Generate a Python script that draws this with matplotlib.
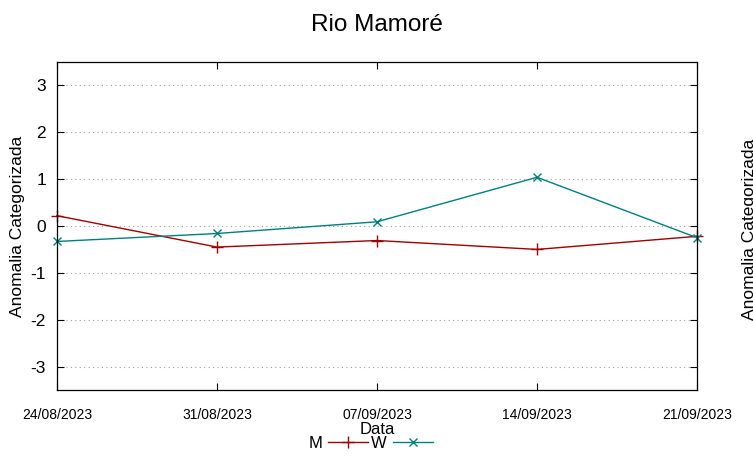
import matplotlib
matplotlib.use("Agg")
import matplotlib.pyplot as plt
import matplotlib.dates as mdates
import pandas as pd

# Chart data
datas = ["2023-08-24", "2023-08-31", "2023-09-07", "2023-09-14", "2023-09-21"]
m_valores = [0.22, -0.45, -0.31, -0.50, -0.22]
w_valores = [-0.33, -0.16, 0.09, 1.04, -0.25]
y_ticks = [-3, -2, -1, 0, 1, 2, 3]

x = pd.to_datetime(datas)

plt.rcParams['font.family'] = ['Liberation Sans', 'DejaVu Sans']
plt.rcParams['axes.unicode_minus'] = False

fig = plt.figure(figsize=(7.53, 4.59), dpi=100)
ax = fig.add_axes([57 / 753, 69 / 459, 640 / 753, 328 / 459])

ax.plot(x, m_valores, color='#a00000', lw=1, marker='+', ms=8, mew=1, label='M', clip_on=False)
ax.plot(x, w_valores, color='#008080', lw=1, marker='x', ms=6, mew=1, label='W', clip_on=False)

ax.set_xlim(x[0], x[-1])
ax.set_ylim(-3.5, 3.5)
ax.set_yticks(y_ticks)
ax.set_xticks(x)
ax.xaxis.set_major_formatter(mdates.DateFormatter('%d/%m/%Y'))
ax.yaxis.grid(True, linestyle=(0, (1, 3)), color='#a0a0a0', lw=0.8)

ax.tick_params(direction='in', top=True, right=True, length=5, width=0.8)
ax.tick_params(axis='y', labelsize=12.5, pad=8)
ax.tick_params(axis='x', labelsize=10, pad=13)
for s in ax.spines.values():
    s.set_linewidth(0.9)

ax.set_ylabel('Anomalia Categorizada', fontsize=12.5, labelpad=4)
ax.set_xlabel('Data', fontsize=12, labelpad=0)
ax.set_title('Rio Mamoré', fontsize=17.5, pad=22)

ax.legend(loc='center', bbox_to_anchor=(0.49, -(443 - 390) / 328),
          ncol=2, frameon=False, markerfirst=False, handlelength=2.4,
          columnspacing=0.2, handletextpad=0.35, borderaxespad=0,
          borderpad=0, fontsize=12)

# cut-off label of the neighbouring panel
fig.text(742 / 753, 0.5, 'Anomalia Categorizada', rotation=90, fontsize=12.5,
         va='center', ha='left')

fig.savefig('out.png', dpi=100)
